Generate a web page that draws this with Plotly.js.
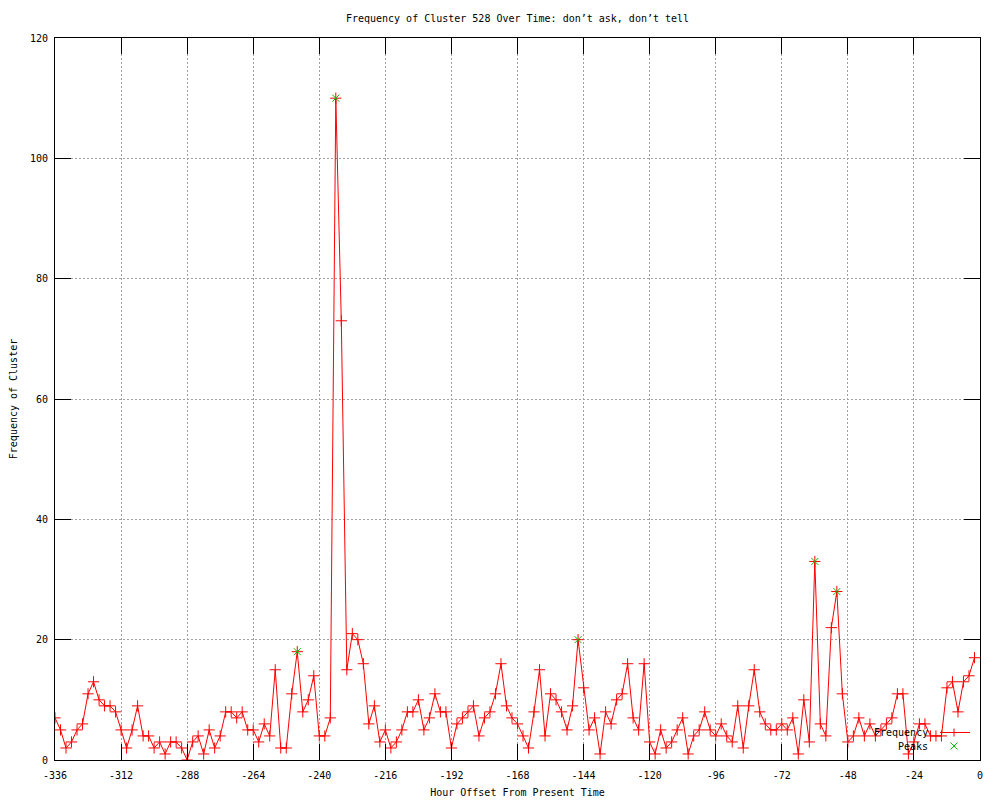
<!DOCTYPE html>
<html>
<head>
<meta charset="utf-8">
<script src="https://cdn.plot.ly/plotly-3.0.1.min.js"></script>
<style>html,body{margin:0;padding:0;background:#fff;}</style>
</head>
<body>
<div id="chart" style="width:1000px;height:800px;"></div>
<script>
// ---- data ----
const hours = [];
for (let h = -336; h <= -2; h += 2) hours.push(h);
const frequency = [
  7, 5, 2, 3, 5, 6, 11, 13, 10, 9, 9, 8, 5, 2, 5, 9, 4, 4, 2, 3,
  1, 3, 3, 2, 0, 3, 4, 1, 5, 2, 4, 8, 8, 7, 8, 5, 5, 3, 6, 4,
  15, 2, 2, 11, 18, 8, 10, 14, 4, 4, 7, 110, 73, 15, 21, 20, 16, 6, 9, 3,
  5, 2, 3, 5, 8, 8, 10, 5, 7, 11, 8, 8, 2, 6, 7, 8, 9, 4, 7, 8,
  11, 16, 9, 7, 6, 4, 2, 8, 15, 4, 11, 10, 8, 5, 9, 20, 12, 5, 7, 1,
  8, 6, 10, 11, 16, 7, 5, 16, 3, 1, 5, 2, 3, 5, 7, 1, 4, 5, 8, 5,
  4, 6, 4, 3, 9, 2, 9, 15, 8, 6, 5, 5, 6, 5, 7, 1, 10, 3, 33, 6,
  4, 22, 28, 11, 3, 4, 7, 4, 6, 4, 5, 6, 7, 11, 11, 1, 3, 6, 6, 4,
  4, 4, 12, 13, 8, 13, 14, 17
];
const peakHours = [-248, -234, -146, -60, -52];
const peakValues = [18, 110, 20, 33, 28];
const xTickVals = [-336, -312, -288, -264, -240, -216, -192, -168, -144, -120, -96, -72, -48, -24, 0];
const xTickLabels = ['-336', '-312', '-288', '-264', '-240', '-216', '-192', '-168', '-144', '-120', '-96', '-72', '-48', '-24', '0'];
const yTickVals = [0, 20, 40, 60, 80, 100, 120];
const yTickLabels = ['0', '20', '40', '60', '80', '100', '120'];
const seriesNames = ['Frequency', 'Peaks'];

// ---- layout helpers (pixel -> paper) ----
const L = 55, R = 980, T = 38, B = 760;
const px = v => (v - L) / (R - L);
const py = v => (B - v) / (B - T);

const FONT = 'DejaVu Sans Mono, Liberation Mono, monospace';
const RED = '#ff0000', GREEN = '#00c000';

const traces = [
  {
    x: hours, y: frequency, type: 'scatter', mode: 'lines+markers', name: seriesNames[0],
    line: {color: RED, width: 1},
    marker: {symbol: 'cross-thin-open', size: 8, color: RED, line: {color: RED, width: 1}},
    hoverinfo: 'x+y'
  },
  {
    x: peakHours, y: peakValues, type: 'scatter', mode: 'markers', name: seriesNames[1],
    marker: {symbol: 'x-thin-open', size: 7, color: GREEN, line: {color: GREEN, width: 1}},
    hoverinfo: 'x+y'
  }
];

// custom gnuplot-style key (text left of sample)
const keyY1 = 732.5, keyY2 = 746, keyTextX = 930, sampleX0 = 940, sampleX1 = 970, sampleMid = 954;
const shapes = [
  {type: 'line', xref: 'paper', yref: 'paper', x0: px(sampleX0), x1: px(sampleX1), y0: py(keyY1), y1: py(keyY1), line: {color: RED, width: 1}},
  {type: 'line', xref: 'paper', yref: 'paper', x0: px(sampleMid - 4), x1: px(sampleMid + 4), y0: py(keyY1), y1: py(keyY1), line: {color: RED, width: 1}},
  {type: 'line', xref: 'paper', yref: 'paper', x0: px(sampleMid), x1: px(sampleMid), y0: py(keyY1 - 4), y1: py(keyY1 + 4), line: {color: RED, width: 1}},
  {type: 'line', xref: 'paper', yref: 'paper', x0: px(sampleMid - 3.5), x1: px(sampleMid + 3.5), y0: py(keyY2 - 3.5), y1: py(keyY2 + 3.5), line: {color: GREEN, width: 1}},
  {type: 'line', xref: 'paper', yref: 'paper', x0: px(sampleMid - 3.5), x1: px(sampleMid + 3.5), y0: py(keyY2 + 3.5), y1: py(keyY2 - 3.5), line: {color: GREEN, width: 1}}
];
const annotations = [
  {text: seriesNames[0], xref: 'paper', yref: 'paper', x: px(keyTextX), y: py(keyY1), xanchor: 'right', yanchor: 'middle', showarrow: false, font: {family: FONT, size: 10, color: '#000'}},
  {text: seriesNames[1], xref: 'paper', yref: 'paper', x: px(keyTextX), y: py(keyY2), xanchor: 'right', yanchor: 'middle', showarrow: false, font: {family: FONT, size: 10, color: '#000'}}
];

const axisCommon = {
  showline: true, linecolor: '#000', linewidth: 1, mirror: 'allticks',
  ticks: 'inside', ticklen: 16, tickcolor: '#000', tickwidth: 1,
  showgrid: true, gridcolor: '#a0a0a0', gridwidth: 1, griddash: '2px,2px',
  zeroline: false, tickfont: {family: FONT, size: 10, color: '#000'}, fixedrange: true
};

const layout = {
  width: 1000, height: 800,
  margin: {l: L, r: 1000 - R, t: T, b: 800 - B, pad: 0},
  paper_bgcolor: '#fff', plot_bgcolor: '#fff',
  showlegend: false,
  title: {text: 'Frequency of Cluster 528 Over Time: don\u2019t ask, don\u2019t tell', font: {family: FONT, size: 10, color: '#000'},
          x: 0.5175, xanchor: 'center', y: 1 - 18 / 800, yanchor: 'middle'},
  xaxis: Object.assign({}, axisCommon, {
    range: [-336, 0], tickmode: 'array', tickvals: xTickVals, ticktext: xTickLabels, ticklabelstandoff: 6,
    title: {text: 'Hour Offset From Present Time', font: {family: FONT, size: 10, color: '#000'}, standoff: 8}
  }),
  yaxis: Object.assign({}, axisCommon, {
    range: [0, 120], tickmode: 'array', tickvals: yTickVals, ticktext: yTickLabels, ticklabelstandoff: 4,
    title: {text: 'Frequency of Cluster', font: {family: FONT, size: 10, color: '#000'}, standoff: 10}
  }),
  shapes: shapes,
  annotations: annotations
};

Plotly.newPlot('chart', traces, layout, {displayModeBar: false, staticPlot: true});
</script>
</body>
</html>
